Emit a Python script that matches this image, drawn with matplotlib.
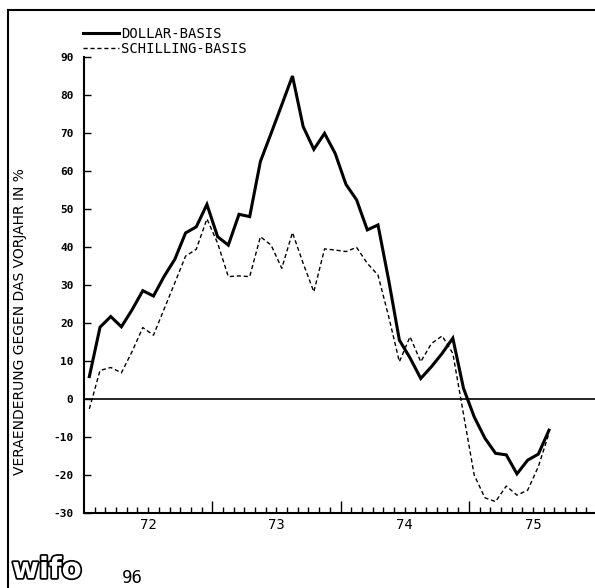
import numpy as np
import matplotlib
matplotlib.use('Agg')
import matplotlib.pyplot as plt
from matplotlib.lines import Line2D
from matplotlib.ticker import FixedLocator, FuncFormatter
import matplotlib.patheffects as pe

plt.rcParams['axes.unicode_minus'] = False

# Monthly change vs. previous year in %, Jan 1972 - Aug 1975
dollar = [5.9, 18.9, 21.7, 19.0, 23.5, 28.5, 27.1, 32.3, 36.8, 43.7, 45.3, 51.2,
          42.7, 40.5, 48.6, 48.0, 62.5, 69.9, 77.4, 85.0, 71.7, 65.7, 69.9, 64.6,
          56.5, 52.4, 44.5, 45.8, 31.3, 15.5, 10.8, 5.4, 8.5, 12.0, 16.0, 2.8,
          -4.7, -10.3, -14.3, -14.7, -19.7, -16.1, -14.5, -8.2]
schilling = [-2.6, 7.5, 8.3, 6.9, 12.5, 18.8, 16.8, 23.7, 30.6, 37.6, 39.4, 47.4,
             41.0, 32.2, 32.4, 32.2, 42.7, 40.5, 34.4, 43.8, 35.7, 28.2, 39.5, 39.2,
             38.8, 39.9, 35.7, 32.6, 21.7, 9.8, 16.4, 9.8, 14.6, 16.6, 12.0, -4.0,
             -20.0, -26.0, -27.0, -22.9, -25.3, -24.0, -17.8, -9.0]
year_labels = ['72', '73', '74', '75']
y_ticks = [-30, -20, -10, 0, 10, 20, 30, 40, 50, 60, 70, 80, 90]

mono = 'DejaVu Sans Mono'
W, H = 595, 588

fig = plt.figure(figsize=(W / 100, H / 100), dpi=100)
ax = fig.add_axes([84 / W, 1 - 513 / H, 511 / W, 456 / H])

# month index, points placed mid-month
x = np.arange(len(dollar)) + 0.5

l1, = ax.plot(x, dollar, color='black', lw=2.2, solid_joinstyle='miter')
l2, = ax.plot(x, schilling, color='black', lw=1.0, linestyle=(0, (3, 2)))
ax.axhline(0, color='black', lw=1.2)

ax.set_xlim(0, 47.8)
ax.set_ylim(-30, 90)

for s in ['top', 'right']:
    ax.spines[s].set_visible(False)
for s in ['left', 'bottom']:
    ax.spines[s].set_linewidth(1.5)

# y axis
ax.set_yticks(y_ticks)
ax.set_yticklabels([str(v) for v in y_ticks], fontfamily=mono, fontsize=8,
                   fontweight='bold')
ax.tick_params(axis='y', direction='in', length=5, width=1, pad=7.5)

# x axis: long ticks at year boundaries, short monthly ticks, labels mid-year
ax.xaxis.set_major_locator(FixedLocator([12, 24, 36]))
ax.xaxis.set_major_formatter(FuncFormatter(lambda v, p: ''))
ax.xaxis.set_minor_locator(FixedLocator(range(1, 48)))


def month_label(v, p):
    m = int(round(v))
    if m % 12 == 6 and m // 12 < len(year_labels):
        return year_labels[m // 12]
    return ''


ax.xaxis.set_minor_formatter(FuncFormatter(month_label))
ax.tick_params(axis='x', which='major', direction='in', length=9, width=1)
ax.tick_params(axis='x', which='minor', direction='in', length=4, width=1,
               pad=3.5, labelsize=10)
for t in ax.xaxis.get_minorticklabels():
    t.set_fontfamily(mono)

# legend above the plot
fig.legend([l1, l2], ['DOLLAR-BASIS', 'SCHILLING-BASIS'], loc='upper left',
           bbox_to_anchor=(83 / W, 1 - 27 / H), frameon=False, borderpad=0,
           borderaxespad=0, handlelength=2.6, handletextpad=0.15,
           labelspacing=0.05, prop={'family': mono, 'size': 10})

fig.text(20 / W, 1 - 322 / H, 'VERAENDERUNG GEGEN DAS VORJAHR IN %',
         rotation=90, ha='center', va='center', fontsize=10,
         fontfamily='DejaVu Sans')

# outer frame (top and left)
fig.add_artist(Line2D([8 / W, 8 / W], [0, 1 - 10 / H], transform=fig.transFigure,
                      color='black', lw=1.5))
fig.add_artist(Line2D([8 / W, 1], [1 - 10 / H, 1 - 10 / H],
                      transform=fig.transFigure, color='black', lw=1.5))

# logo and page number
fig.text(12 / W, 1 - 578 / H, 'wifo', fontsize=21, fontweight='bold',
         color='white', ha='left', va='baseline',
         path_effects=[pe.withStroke(linewidth=2.5, foreground='black')])
fig.text(122 / W, 1 - 578 / H, '96', fontsize=12.5, fontfamily=mono,
         ha='left', va='center')

fig.savefig('out.png', dpi=100)
